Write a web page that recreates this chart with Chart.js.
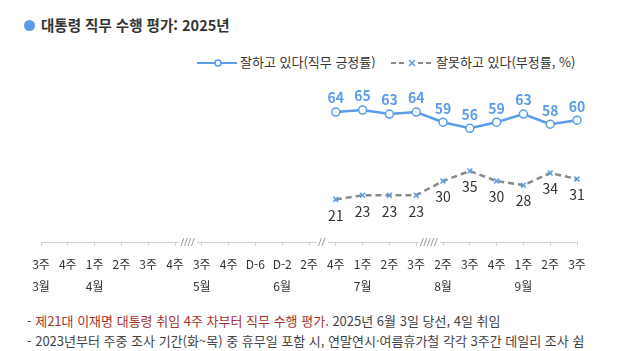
<!DOCTYPE html>
<html lang="ko">
<head>
<meta charset="utf-8">
<script src="https://cdn.jsdelivr.net/npm/chart.js@4"></script>
<style>
  body { margin: 0; width: 640px; height: 351px; background: #fff; font-family: "Noto Sans CJK KR", "Noto Sans", sans-serif; position: relative; overflow: hidden; }
  #dot { position: absolute; left: 24px; top: 20px; width: 11px; height: 11px; border-radius: 50%; background: #5b9bea; }
  #title { position: absolute; left: 41px; top: 15px; font-size: 14.5px; font-weight: bold; color: #333; line-height: 20px; }
  .legend { position: absolute; top: 53px; font-size: 13px; color: #333; line-height: 18px; white-space: nowrap; }
  .legend svg { vertical-align: middle; margin-right: 3px; }
  #chartBox { position: absolute; left: 0; top: 0; }
  .note { position: absolute; left: 27px; font-size: 13px; color: #444; white-space: nowrap; line-height: 16px; }
  .red { color: #a8322d; }
</style>
</head>
<body>
<div id="dot"></div>
<div id="title">대통령 직무 수행 평가: 2025년</div>

<div class="legend" style="left:197px">
  <svg width="40" height="10"><line x1="0" y1="5" x2="40" y2="5" stroke="#5b9bea" stroke-width="2"/><circle cx="21" cy="5" r="3" fill="#fff" stroke="#5b9bea" stroke-width="1.5"/></svg>잘하고 있다(직무 긍정률)
</div>
<div class="legend" style="left:391px">
  <svg width="42" height="10"><line x1="0" y1="5" x2="14" y2="5" stroke="#888" stroke-width="2" stroke-dasharray="5,3"/><line x1="27" y1="5" x2="42" y2="5" stroke="#888" stroke-width="2" stroke-dasharray="5,3"/><path d="M18 2 L24 8 M24 2 L18 8" stroke="#5b9bea" stroke-width="1.5"/></svg>잘못하고 있다(부정률, %)
</div>

<div id="chartBox"><canvas id="chart" width="640" height="306"></canvas></div>

<div class="note" style="top:313px">- <span class="red">제21대 이재명 대통령 취임 4주 차부터 직무 수행 평가.</span> 2025년 6월 3일 당선, 4일 취임</div>
<div class="note" style="top:333px">- 2023년부터 주중 조사 기간(화~목) 중 휴무일 포함 시, 연말연시·여름휴가철 각각 3주간 데일리 조사 쉼</div>

<script>
const weeks = ['3주', '4주', '1주', '2주', '3주', '4주', '3주', '4주', 'D-6', 'D-2', '2주',
               '4주', '1주', '2주', '3주', '2주', '3주', '4주', '1주', '2주', '3주'];
const months = ['3월', '', '4월', '', '', '', '5월', '', '', '6월', '',
                '', '7월', '', '', '8월', '', '', '9월', '', ''];
const approve = [null, null, null, null, null, null, null, null, null, null, null,
                 64, 65, 63, 64, 59, 56, 59, 63, 58, 60];
const disapprove = [null, null, null, null, null, null, null, null, null, null, null,
                    21, 23, 23, 23, 30, 35, 30, 28, 34, 31];
// axis breaks: [index before the gap, number of slashes]
const breaks = [[5, 4], [10, 2], [14, 5]];

const FONT = '"Noto Sans CJK KR", "Noto Sans", sans-serif';
const BLUE = '#5b9bea';

const labels = weeks.map((w, i) => [w, months[i]]);

// value labels above / below the points
const valueLabels = {
  id: 'valueLabels',
  afterDatasetsDraw(chart) {
    const ctx = chart.ctx;
    ctx.save();
    ctx.textAlign = 'center';
    ctx.textBaseline = 'middle';
    chart.data.datasets.forEach((ds, di) => {
      const meta = chart.getDatasetMeta(di);
      meta.data.forEach((pt, i) => {
        const v = ds.data[i];
        if (v == null) return;
        if (di === 0) {
          ctx.font = 'bold 14px ' + FONT;
          ctx.fillStyle = BLUE;
          ctx.fillText(v, pt.x, pt.y - 14);
        } else {
          ctx.font = '14px ' + FONT;
          ctx.fillStyle = '#333';
          ctx.fillText(v, pt.x, pt.y + 16);
        }
      });
    });
    ctx.restore();
  }
};

// the little "////" marks on the axis
const axisBreaks = {
  id: 'axisBreaks',
  afterDraw(chart) {
    const ctx = chart.ctx;
    const x = chart.scales.x;
    const y = chart.chartArea.bottom;
    ctx.save();
    breaks.forEach(([i, n]) => {
      const cx = (x.getPixelForValue(i) + x.getPixelForValue(i + 1)) / 2;
      const w = n * 3.5;
      ctx.fillStyle = '#fff';
      ctx.fillRect(cx - w / 2 - 2, y - 1.5, w + 4, 3);
      ctx.strokeStyle = '#999';
      ctx.lineWidth = 1;
      for (let k = 0; k < n; k++) {
        const sx = cx - w / 2 + k * 3.5 + 1;
        ctx.beginPath();
        ctx.moveTo(sx - 1.5, y + 4);
        ctx.lineTo(sx + 1.5, y - 4);
        ctx.stroke();
      }
    });
    ctx.restore();
  }
};

new Chart(document.getElementById('chart').getContext('2d'), {
  type: 'line',
  data: {
    labels: labels,
    datasets: [{
      label: '잘하고 있다(직무 긍정률)',
      data: approve,
      borderColor: BLUE,
      borderWidth: 2.5,
      pointStyle: 'circle',
      pointRadius: 4,
      pointBorderWidth: 1.5,
      pointBackgroundColor: '#fff',
      pointBorderColor: BLUE,
      spanGaps: false
    }, {
      label: '잘못하고 있다(부정률, %)',
      data: disapprove,
      borderColor: '#888',
      borderWidth: 2.5,
      borderDash: [6, 4],
      pointStyle: 'crossRot',
      pointRadius: 3.5,
      pointBorderWidth: 1.5,
      pointBorderColor: BLUE,
      spanGaps: false
    }]
  },
  options: {
    responsive: false,
    animation: false,
    layout: { padding: { left: 41, right: 63, top: 39, bottom: 2 } },
    plugins: {
      legend: { display: false },
      tooltip: { enabled: false }
    },
    scales: {
      x: {
        offset: false,
        grid: { drawOnChartArea: false, color: '#d0d0d0', tickLength: 4 },
        border: { color: '#d0d0d0' },
        ticks: {
          color: '#333',
          font: { size: 12, family: FONT, lineHeight: '22px' },
          maxRotation: 0,
          autoSkip: false,
          padding: 7
        }
      },
      y: { display: false, min: 0, max: 100 }
    }
  },
  plugins: [valueLabels, axisBreaks]
});
</script>
</body>
</html>
